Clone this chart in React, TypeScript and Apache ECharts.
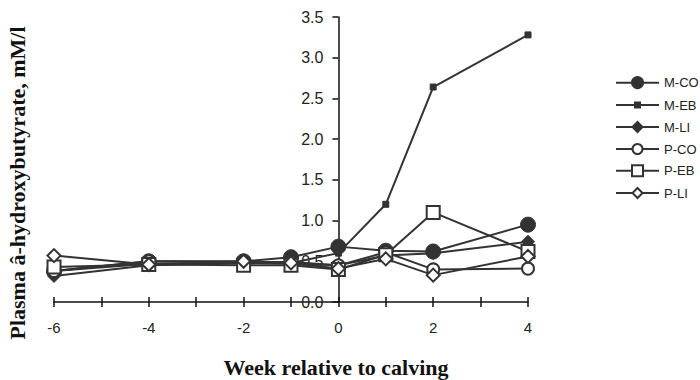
import React, { useEffect, useRef } from "react";
import * as echarts from "echarts";

const weeks = [-6, -4, -2, -1, 0, 1, 2, 4];
const seriesNames = ["M-CO", "M-EB", "M-LI", "P-CO", "P-EB", "P-LI"];
const mCO = [0.38, 0.5, 0.5, 0.55, 0.68, 0.63, 0.62, 0.95];
const mEB = [0.38, 0.47, 0.48, 0.48, 0.6, 1.2, 2.64, 3.28];
const mLI = [0.32, 0.45, 0.48, 0.47, 0.45, 0.57, 0.6, 0.74];
const pCO = [0.38, 0.5, 0.49, 0.49, 0.45, 0.61, 0.4, 0.41];
const pEB = [0.43, 0.46, 0.45, 0.45, 0.4, 0.58, 1.1, 0.62];
const pLI = [0.57, 0.46, 0.5, 0.48, 0.41, 0.53, 0.33, 0.56];
const yTitle = "Plasma â-hydroxybutyrate, mM/l";
const xTitle = "Week relative to calving";

const C = "#333333";

export default function App() {
  const ref = useRef<HTMLDivElement>(null);
  useEffect(() => {
    if (!ref.current) return;
    const chart = echarts.init(ref.current, undefined, { renderer: "svg" });
    const values = [mCO, mEB, mLI, pCO, pEB, pLI];
    const symbols = [
      { symbol: "circle", size: 15, legend: 11, filled: true },
      { symbol: "rect", size: 6, legend: 5, filled: true },
      { symbol: "diamond", size: 13, legend: 10, filled: true },
      { symbol: "circle", size: 12, legend: 10, filled: false },
      { symbol: "rect", size: 13, legend: 11, filled: false },
      { symbol: "diamond", size: 13, legend: 10, filled: false },
    ];
    const series = seriesNames.map((name, i) => ({
      name,
      type: "line",
      data: weeks.map((w, j) => [w, values[i][j]]),
      symbol: symbols[i].symbol,
      symbolSize: symbols[i].size,
      showAllSymbol: true,
      lineStyle: { color: C, width: 2 },
      itemStyle: symbols[i].filled
        ? { color: C, borderColor: C, borderWidth: 1 }
        : { color: "#ffffff", borderColor: C, borderWidth: 2 },
      z: 2 + i,
    }));
    const legends = seriesNames.map((name, i) => {
      const h = symbols[i].legend / 0.8;
      const cy = 83 + i * 22;
      return {
        orient: "vertical",
        left: 615,
        top: cy - Math.max(h, 13) / 2,
        padding: 0,
        itemWidth: 43,
        itemHeight: h,
        data: [name],
        selectedMode: false,
        textStyle: { fontFamily: "Liberation Sans", fontSize: 13, color: "#222" },
      };
    });
    const gridLeft = 54;
    const gridRight = 172;
    const plotW = 700 - gridLeft - gridRight;
    const xMin = -6;
    const xMax = 4;
    chart.setOption({
      animation: false,
      backgroundColor: "#ffffff",
      grid: { left: gridLeft, right: gridRight, top: 17, bottom: 78 },
      legend: legends,
      xAxis: [
        {
          type: "value",
          min: xMin,
          max: xMax,
          interval: 1,
          splitLine: { show: false },
          axisLine: { onZero: false, lineStyle: { color: "#111", width: 1.5 } },
          axisTick: { length: 5, lineStyle: { color: "#111", width: 1.5 } },
          axisLabel: {
            margin: 18,
            fontFamily: "Liberation Sans",
            fontSize: 15,
            color: "#222",
            formatter: (v: number) => (v % 2 === 0 ? String(v) : ""),
          },
        },
        {
          type: "value",
          position: "bottom",
          min: xMin,
          max: xMax,
          interval: 1,
          splitLine: { show: false },
          axisLine: { show: false, onZero: false },
          axisTick: { inside: true, length: 5, lineStyle: { color: "#111", width: 1.5 } },
          axisLabel: { show: false },
        },
      ],
      yAxis: {
        type: "value",
        position: "left",
        offset: -((0 - xMin) / (xMax - xMin)) * plotW,
        min: 0,
        max: 3.5,
        interval: 0.5,
        splitLine: { show: false },
        axisLine: { show: true, onZero: false, lineStyle: { color: "#111", width: 1.5 } },
        axisTick: { show: true, length: 6, lineStyle: { color: "#111", width: 1.5 } },
        axisLabel: {
          margin: 15,
          fontFamily: "Liberation Sans",
          fontSize: 16,
          color: "#222",
          formatter: (v: number) => v.toFixed(1),
        },
      },
      graphic: [
        {
          type: "text",
          x: 17,
          y: 183,
          rotation: Math.PI / 2,
          style: {
            text: yTitle,
            font: "bold 22px 'Liberation Serif'",
            fill: "#111",
            align: "center",
            verticalAlign: "middle",
          },
        },
        {
          type: "text",
          x: 336,
          y: 367,
          style: {
            text: xTitle,
            font: "bold 22px 'Liberation Serif'",
            fill: "#111",
            align: "center",
            verticalAlign: "middle",
          },
        },
      ],
      series,
    });
    return () => chart.dispose();
  }, []);
  return <div ref={ref} style={{ width: 700, height: 380, position: "absolute", left: 0, top: 0 }} />;
}
